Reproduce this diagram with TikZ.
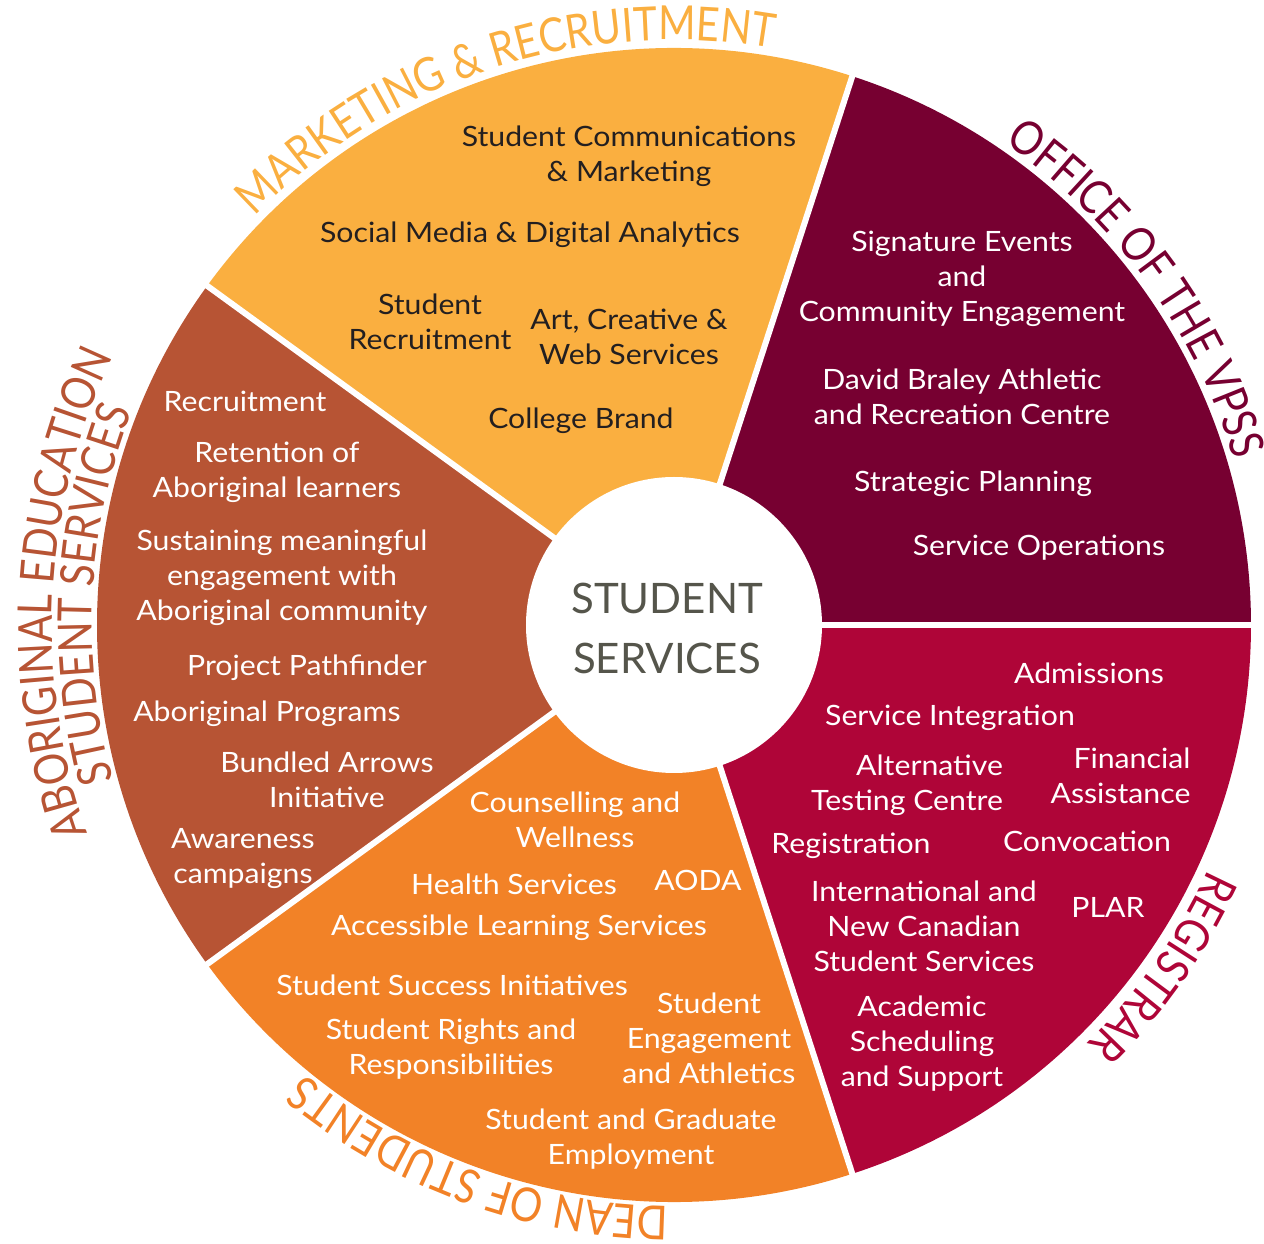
\documentclass[tikz,border=0pt]{standalone}
\usepackage{fontspec}
\setmainfont{Lato}
\newfontfamily\labelfont{Lato}[FakeStretch=0.86]
\newfontfamily\widefont{Lato}[FakeStretch=1.08]
\usetikzlibrary{decorations.text}
\definecolor{mkt}{HTML}{FAAF40}
\definecolor{vps}{HTML}{770031}
\definecolor{reg}{HTML}{AF0538}
\definecolor{dean}{HTML}{F28227}
\definecolor{abo}{HTML}{B75434}
\definecolor{ink}{HTML}{231F20}
\definecolor{ctr}{HTML}{55554B}
\newcommand{\lbl}[1]{\labelfont\fontsize{47}{47}\selectfont\color{#1}}
\begin{document}
\begin{tikzpicture}[x=1pt,y=1pt,
  item/.style={font=\widefont\fontsize{28}{35}\selectfont, align=center, inner sep=0pt, yshift=-3pt},
  dk/.style={item, text=ink},
  wt/.style={item, text=white},
  sep/.style={white, line width=6pt},
  arclabel/.style={decorate, decoration={text along path, text align=center, text={#1}}}]
\useasboundingbox (-674,-619) rectangle (590,625);
\coordinate (c) at (0,0);
% segments
\fill[vps]  (c) -- (0:577)   arc[start angle=0,   end angle=72,  radius=577] -- cycle;
\fill[mkt]  (c) -- (72:577)  arc[start angle=72,  end angle=144, radius=577] -- cycle;
\fill[abo]  (c) -- (144:577) arc[start angle=144, end angle=216, radius=577] -- cycle;
\fill[dean] (c) -- (216:577) arc[start angle=216, end angle=288, radius=577] -- cycle;
\fill[reg]  (c) -- (288:577) arc[start angle=288, end angle=360, radius=577] -- cycle;
\foreach \a in {0,72,144,216,288} \draw[sep] (c) -- (\a:600);
\node[circle, fill=white, minimum size=296pt, inner sep=0pt] (hub) at (c) {};
\node[font=\fontsize{42}{60}\selectfont, text=ctr, align=center, inner sep=0pt] (title) at (-7,-3) {STUDENT\\SERVICES};
% curved labels
\path[arclabel={|\lbl{mkt}|MARKETING {\&} RECRUITMENT}] (148:585) arc[start angle=148, end angle=68, radius=585];
\path[arclabel={|\lbl{vps}|OFFICE OF THE VPSS}] (76:584) arc[start angle=76, end angle=-4, radius=584];
\path[arclabel={|\lbl{reg}|REGISTRAR}] (5:588) arc[start angle=5, end angle=-75, radius=588];
\path[arclabel={|\lbl{dean}|DEAN OF STUDENTS}] (-70:581) arc[start angle=-70, end angle=-150, radius=581];
\path[arclabel={|\lbl{abo}|ABORIGINAL EDUCATION}] (217:622) arc[start angle=217, end angle=137, radius=622];
\path[arclabel={|\lbl{abo}|STUDENT SERVICES}] (217:582) arc[start angle=217, end angle=137, radius=582];
% marketing
\node[dk] (m1) at (-45,471.5) {Student Communications\\\& Marketing};
\node[dk] (m2) at (-144,393) {Social Media \& Digital Analytics};
\node[dk] (m3) at (-244,306.5) {Student\\Recruitment};
\node[dk] (m4) at (-45,291) {Art, Creative \&\\Web Services};
\node[dk] (m5) at (-93,207) {College Brand};
% vpss
\node[wt] (v1) at (288,349) {Signature Events\\and\\Community Engagement};
\node[wt] (v2) at (288,231) {David Braley Athletic\\and Recreation Centre};
\node[wt] (v3) at (299,144) {Strategic Planning};
\node[wt] (v4) at (365,80) {Service Operations};
% registrar
\node[wt] (r1) at (415,-45) {Admissions};
\node[wt] (r2) at (276,-90) {Service Integration};
\node[wt, align=right] (r3) at (233,-157.5) {Alternative\\Testing Centre};
\node[wt, align=right] (r4) at (446.5,-147.5) {Financial\\Assistance};
\node[wt] (r5) at (177,-218) {Registration};
\node[wt] (r6) at (413,-213) {Convocation};
\node[wt] (r7) at (250,-298) {International and\\New Canadian\\Student Services};
\node[wt] (r8) at (434,-279) {PLAR};
\node[wt] (r9) at (248,-416) {Academic\\Scheduling\\and Support};
% dean
\node[wt] (d1) at (-99,-191.5) {Counselling and\\Wellness};
\node[wt] (d2) at (-160,-256) {Health Services};
\node[wt] (d3) at (24,-252) {AODA};
\node[wt] (d4) at (-155,-300) {Accessible Learning Services};
\node[wt] (d5) at (-222,-357) {Student Success Initiatives};
\node[wt] (d6) at (35,-410) {Student\\Engagement\\and Athletics};
\node[wt] (d7) at (-223,-421.5) {Student Rights and\\Responsibilities};
\node[wt] (d8) at (-43,-511.5) {Student and Graduate\\Employment};
% aboriginal
\node[wt] (a1) at (-429,227) {Recruitment};
\node[wt] (a2) at (-397,155.5) {Retention of\\Aboriginal learners};
\node[wt] (a3) at (-392,50) {Sustaining meaningful\\engagement with\\Aboriginal community};
\node[wt] (a4) at (-367,-40) {Project Pathfinder};
\node[wt] (a5) at (-407,-86) {Aboriginal Programs};
\node[wt] (a6) at (-347,-152) {Bundled Arrows\\Initiative};
\node[wt] (a7) at (-431,-230.5) {Awareness\\campaigns};
\end{tikzpicture}
\end{document}
